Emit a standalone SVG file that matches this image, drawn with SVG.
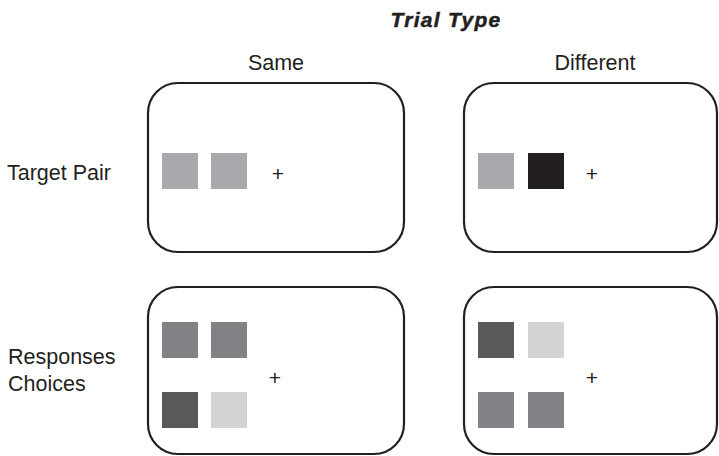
<svg xmlns="http://www.w3.org/2000/svg" width="719" height="456" viewBox="0 0 719 456">
  <style>
    .lbl { font-family: "Liberation Sans", Arial, sans-serif; font-size: 21.5px; fill: #231f20; }
    .title { font-family: "Liberation Sans", Arial, sans-serif; font-size: 21px; font-weight: bold; font-style: italic; letter-spacing: 1.3px; fill: #231f20; stroke: #231f20; stroke-width: 0.5; }
    .plus { font-family: "Liberation Sans", Arial, sans-serif; font-size: 21px; fill: #231f20; text-anchor: middle; }
    .panel { fill: #ffffff; stroke: #231f20; stroke-width: 2.2; }
    .g1 { fill: #a7a9ac; }
    .g2 { fill: #231f20; }
    .g3 { fill: #808285; }
    .g4 { fill: #58595b; }
    .g5 { fill: #d1d3d4; }
  </style>
  <rect width="719" height="456" fill="#ffffff"/>

  <!-- headings -->
  <g id="headings">
    <text class="title" x="446" y="27" text-anchor="middle">Trial Type</text>
    <text class="lbl" x="276" y="70" text-anchor="middle">Same</text>
    <text class="lbl" x="595" y="70" text-anchor="middle">Different</text>
    <text class="lbl" x="7" y="180">Target Pair</text>
    <text class="lbl" x="8" y="364">Responses</text>
    <text class="lbl" x="8" y="391">Choices</text>
  </g>

  <!-- target pair, same -->
  <g id="target-same">
    <rect class="panel" x="148" y="83" width="256" height="169" rx="30"/>
    <rect class="g1" x="162" y="153" width="36" height="36"/>
    <rect class="g1" x="211" y="153" width="36" height="36"/>
    <text class="plus" x="278" y="181">+</text>
  </g>

  <!-- target pair, different -->
  <g id="target-different">
    <rect class="panel" x="464" y="83" width="253" height="169" rx="30"/>
    <rect class="g1" x="478" y="153" width="36" height="36"/>
    <rect class="g2" x="528" y="153" width="36" height="36"/>
    <text class="plus" x="592" y="181">+</text>
  </g>

  <!-- response choices, same -->
  <g id="choices-same">
    <rect class="panel" x="148" y="287" width="256" height="167" rx="30"/>
    <rect class="g3" x="162" y="322" width="36" height="36"/>
    <rect class="g3" x="211" y="322" width="36" height="36"/>
    <rect class="g4" x="162" y="392" width="36" height="36"/>
    <rect class="g5" x="211" y="392" width="36" height="36"/>
    <text class="plus" x="275" y="385">+</text>
  </g>

  <!-- response choices, different -->
  <g id="choices-different">
    <rect class="panel" x="464" y="287" width="253" height="167" rx="30"/>
    <rect class="g4" x="478" y="322" width="36" height="36"/>
    <rect class="g5" x="528" y="322" width="36" height="36"/>
    <rect class="g3" x="478" y="392" width="36" height="36"/>
    <rect class="g3" x="528" y="392" width="36" height="36"/>
    <text class="plus" x="592" y="385">+</text>
  </g>

  <g id="connectors"/>
</svg>
